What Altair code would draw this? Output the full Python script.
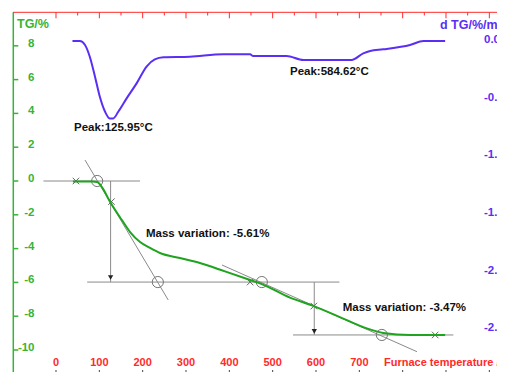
import altair as alt
import pandas as pd

# ---------------- data ----------------
# TG curve: furnace temperature (°C) and mass change (%)
tg_temp = [39, 85, 95, 106, 125, 152, 171, 194, 217, 240, 286, 332, 390, 448, 475, 540, 595, 655, 708, 755, 817, 898]
tg_val = [-0.03, -0.03, -0.06, -0.36, -1.24, -2.31, -3.02, -3.61, -3.96, -4.26, -4.56, -4.85, -5.35, -5.86, -6.1, -6.9, -7.4, -8.05, -8.64, -8.99, -9.11, -9.11]

# DTG curve: temperature (°C) and d TG (%/min)
dtg_temp = [38, 55, 67, 78, 90, 101, 113, 124, 132, 144, 163, 186, 209, 228, 248, 309, 386, 448, 455, 532, 571, 682, 709, 725, 755, 817, 848, 898]
dtg_val = [-0.009, -0.009, -0.043, -0.145, -0.318, -0.49, -0.62, -0.68, -0.68, -0.62, -0.506, -0.376, -0.23, -0.168, -0.15, -0.145, -0.124, -0.124, -0.139, -0.139, -0.173, -0.173, -0.116, -0.095, -0.081, -0.043, -0.009, -0.009]

# construction lines (temperature, TG) -> (temperature, TG)
seg_t1 = [-29, 67, 126, 72, 383, 596, 547]
seg_v1 = [0.0, 1.24, 0.0, -5.98, -4.97, -5.98, -9.11]
seg_t2 = [194, 259, 126, 654, 833, 596, 917]
seg_v2 = [0.0, -7.04, -5.98, -5.98, -10.1, -9.11, -9.11]

# arrow heads
arrow_t = [126, 596]
arrow_v = [-5.71, -8.9]

# onset / end circles and crosses
circle_t = [95, 235, 475, 752]
circle_v = [0.0, -5.98, -5.98, -9.11]
cross_t = [46, 128, 448, 595, 875]
cross_v = [0.0, -1.22, -5.98, -7.4, -9.11]

# annotations
note_text = ["Peak:125.95°C", "Peak:584.62°C", "Mass variation: -5.61%", "Mass variation: -3.47%"]
note_t = [41.5, 540, 207.7, 661.6]
note_v = [3.15, 6.47, -3.14, -7.53]

# axes
tg_ticks = [8, 6, 4, 2, 0, -2, -4, -6, -8, -10]
tg_labels = ["8", "6", "4", "2", "0", "-2", "-4", "-6", "-8", "-10"]
temp_major = [0, 100, 200, 300, 400, 500, 600, 700, 800, 900, 1000]
temp_minor = [50, 150, 250, 350, 450, 550, 650, 750, 850, 950]
temp_labels = [0, 100, 200, 300, 400, 500, 600, 700]
dtg_ticks = [0.0, -0.5, -1.0, -1.5, -2.0, -2.5]
dtg_labels = ["0.0", "-0.5", "-1.0", "-1.5", "-2.0", "-2.5"]

# ---------------- styling ----------------
W, H = 489, 364
FONT = "Liberation Sans"
GREEN_AX = "#36b436"
GREEN_LINE = "#1ea41e"
BLUE = "#5a2ef5"
RED = "#ff2a2a"
GRAY = "#8a8a8a"

xs = alt.Scale(domain=[-110.77, 1017.7], nice=False, zero=False)
ys_tg = alt.Scale(domain=[(173 - H) / 16.9, 10.237], nice=False, zero=False)
ys_dtg = alt.Scale(domain=[(32 - H) / 115.3, 0.2775], nice=False, zero=False)

X = lambda f: alt.X(f, type="quantitative", scale=xs, axis=None)
X2 = lambda f: alt.X2(f)
YT = lambda f: alt.Y(f, type="quantitative", scale=ys_tg, axis=None)
YD = lambda f: alt.Y(f, type="quantitative", scale=ys_dtg, axis=None)

tg_df = pd.DataFrame({"t": tg_temp, "v": tg_val})
dtg_df = pd.DataFrame({"t": dtg_temp, "v": dtg_val})
seg_df = pd.DataFrame({"t1": seg_t1, "v1": seg_v1, "t2": seg_t2, "v2": seg_v2})
arrow_df = pd.DataFrame({"t": arrow_t, "v": arrow_v})
circ_df = pd.DataFrame({"t": circle_t, "v": circle_v})
cross_df = pd.DataFrame({"t": cross_t, "v": cross_v})
note_df = pd.DataFrame({"t": note_t, "v": note_v, "txt": note_text})
tgtick_df = pd.DataFrame({"v": tg_ticks, "lab": tg_labels})
major_df = pd.DataFrame({"t": temp_major})
minor_df = pd.DataFrame({"t": temp_minor})
tlab_df = pd.DataFrame({"t": temp_labels, "lab": [str(v) for v in temp_labels]})
dtick_df = pd.DataFrame({"v": dtg_ticks, "lab": dtg_labels})

one = pd.DataFrame({"a": [0]})

layers = []

# construction lines
layers.append(alt.Chart(seg_df).mark_rule(color=GRAY, strokeWidth=1).encode(
    x=X("t1"), x2=X2("t2"), y=YT("v1"), y2=alt.Y2("v2")))
layers.append(alt.Chart(arrow_df).mark_point(shape="triangle-down", filled=True, size=28,
                                             color="#222222", opacity=1).encode(x=X("t"), y=YT("v")))
layers.append(alt.Chart(circ_df).mark_point(shape="circle", filled=False, size=125,
                                            color="#777777", strokeWidth=1, opacity=1).encode(x=X("t"), y=YT("v")))
layers.append(alt.Chart(cross_df).mark_point(shape="M-1,-1L1,1M-1,1L1,-1", filled=False, size=42,
                                             color="#666666", strokeWidth=1, opacity=1).encode(x=X("t"), y=YT("v")))

# curves
layers.append(alt.Chart(tg_df).mark_line(color=GREEN_LINE, strokeWidth=2, interpolate="monotone").encode(
    x=X("t"), y=YT("v")))
layers.append(alt.Chart(dtg_df).mark_line(color=BLUE, strokeWidth=2, interpolate="monotone").encode(
    x=X("t"), y=YD("v")))

# annotations
layers.append(alt.Chart(note_df).mark_text(align="left", baseline="middle", font=FONT, fontSize=11.5,
                                           fontWeight="bold", color="#111111").encode(
    x=X("t"), y=YT("v"), text="txt:N"))

# left TG axis
layers.append(alt.Chart(one).mark_rule(color=GREEN_AX, strokeWidth=1.5).encode(
    x=alt.value(5.3), y=alt.value(4.3), y2=alt.value(H)))
layers.append(alt.Chart(tgtick_df).mark_rule(color=GREEN_AX, strokeWidth=1.5).encode(
    x=alt.value(5.3), x2=alt.value(10.3), y=YT("v")))
layers.append(alt.Chart(tgtick_df).mark_text(align="right", baseline="middle", dy=-2, font=FONT,
                                             fontSize=11.5, fontWeight="bold", color=GREEN_AX).encode(
    x=alt.value(26.5), y=YT("v"), text="lab:N"))
layers.append(alt.Chart(one).mark_text(align="left", baseline="middle", font=FONT, fontSize=12.5,
                                       fontWeight="bold", color=GREEN_AX).encode(
    x=alt.value(9), y=alt.value(15.5), text=alt.value("TG/%")))

# top temperature axis
layers.append(alt.Chart(one).mark_rule(color=RED, strokeWidth=1).encode(
    x=alt.value(5), x2=alt.value(W), y=alt.value(4.3)))
layers.append(alt.Chart(major_df).mark_rule(color=RED, strokeWidth=1).encode(
    x=X("t"), y=alt.value(4.3), y2=alt.value(10.3)))
layers.append(alt.Chart(minor_df).mark_rule(color=RED, strokeWidth=1).encode(
    x=X("t"), y=alt.value(4.3), y2=alt.value(7.5)))

# bottom temperature labels and ticks
layers.append(alt.Chart(tlab_df).mark_text(align="center", baseline="middle", font=FONT, fontSize=11,
                                           fontWeight="bold", color=RED).encode(
    x=X("t"), y=alt.value(355), text="lab:N"))
layers.append(alt.Chart(major_df).mark_rule(color="#444444", strokeWidth=1).encode(
    x=X("t"), y=alt.value(362), y2=alt.value(H)))
layers.append(alt.Chart(one).mark_text(align="left", baseline="middle", font=FONT, fontSize=11,
                                       fontWeight="bold", color=RED).encode(
    x=alt.value(376), y=alt.value(355), text=alt.value("Furnace temperature /°C")))

# right DTG axis
layers.append(alt.Chart(dtick_df).mark_text(align="left", baseline="middle", font=FONT, fontSize=11.5,
                                            fontWeight="bold", color=BLUE).encode(
    x=alt.value(476), y=YD("v"), text="lab:N"))
layers.append(alt.Chart(one).mark_text(align="left", baseline="middle", font=FONT, fontSize=12.5,
                                       fontWeight="bold", color=BLUE).encode(
    x=alt.value(432), y=alt.value(17), text=alt.value("d TG/%/min")))

chart = alt.layer(*layers).resolve_scale(y="independent").properties(
    width=W, height=H,
    autosize=alt.AutoSizeParams(type="none"),
    padding=0,
    background="white",
).configure_view(stroke="transparent")

chart.save("out.html", embed_options={"renderer": "svg", "actions": False})
